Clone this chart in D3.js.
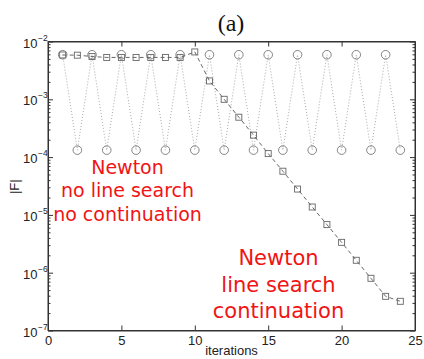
<!DOCTYPE html>
<html>
<head>
<meta charset="utf-8">
<script src="https://d3js.org/d3.v7.min.js"></script>
<style>
  body { margin: 0; background: #fff; }
  svg { display: block; }
</style>
</head>
<body>
<div id="chart"></div>
<script>
// data
var iterations = [1,2,3,4,5,6,7,8,9,10,11,12,13,14,15,16,17,18,19,20,21,22,23,24];
// plain Newton: oscillates between two levels
var newtonPlain = [5.9e-3,1.32e-4,5.9e-3,1.32e-4,5.9e-3,1.32e-4,5.9e-3,1.32e-4,5.9e-3,1.32e-4,5.9e-3,1.32e-4,
                   5.9e-3,1.32e-4,5.9e-3,1.32e-4,5.9e-3,1.32e-4,5.9e-3,1.32e-4,5.9e-3,1.32e-4,5.9e-3,1.32e-4];
// Newton with line search + continuation
var newtonLS = [5.85e-3,5.8e-3,5.5e-3,5.3e-3,5.3e-3,5.3e-3,5.3e-3,5.3e-3,5.3e-3,6.6e-3,2.08e-3,1.0e-3,
                4.9e-4,2.4e-4,1.15e-4,5.7e-5,2.8e-5,1.37e-5,6.8e-6,3.35e-6,1.64e-6,8.0e-7,3.9e-7,3.2e-7];
var xTicks = [0,5,10,15,20,25];
var yExps = [-2,-3,-4,-5,-6,-7];
var label1 = ["Newton","no line search","no continuation"];
var label2 = ["Newton","line search","continuation"];

var W = 424, H = 359;
var margin = {top: 41.5, right: 9, bottom: 28.5, left: 48},
    width = W - margin.left - margin.right,
    height = H - margin.top - margin.bottom;

var svg = d3.select("#chart")
  .append("svg")
    .attr("width", W)
    .attr("height", H)
    .style("font-family", "'Liberation Sans', Arial, sans-serif");

var g = svg.append("g")
    .attr("transform", "translate(" + margin.left + "," + margin.top + ")");

var x = d3.scaleLinear().domain([0, 25]).range([0, width]);
var y = d3.scaleLog().domain([1e-7, 1e-2]).range([height, 0]);

var majorY = yExps.map(function(e) { return Math.pow(10, e); });
var minorY = [];
for (var e = -7; e < -2; e++) {
  for (var m = 2; m <= 9; m++) minorY.push(m * Math.pow(10, e));
}

var axisColor = "#333";

// bottom axis
var xb = g.append("g")
    .attr("transform", "translate(0," + height + ")")
    .call(d3.axisBottom(x).tickValues(xTicks).tickSize(-5).tickSizeOuter(0).tickPadding(5.5).tickFormat(d3.format("d")));
// top axis (ticks only)
var xt = g.append("g")
    .call(d3.axisTop(x).tickValues(xTicks).tickSize(-5).tickSizeOuter(0).tickFormat(""));

// left axis: majors and minors
var yl = g.append("g")
    .call(d3.axisLeft(y).tickValues(majorY).tickSize(-5).tickSizeOuter(0).tickFormat(""));
var ylm = g.append("g")
    .call(d3.axisLeft(y).tickValues(minorY).tickSize(-2.5).tickSizeOuter(0).tickFormat(""));
// right axis
var yr = g.append("g")
    .attr("transform", "translate(" + width + ",0)")
    .call(d3.axisRight(y).tickValues(majorY).tickSize(-5).tickSizeOuter(0).tickFormat(""));
var yrm = g.append("g")
    .attr("transform", "translate(" + width + ",0)")
    .call(d3.axisRight(y).tickValues(minorY).tickSize(-2.5).tickSizeOuter(0).tickFormat(""));

[xb, xt, yl, ylm, yr, yrm].forEach(function(a) {
  a.selectAll("path").attr("stroke", axisColor);
  a.selectAll("line").attr("stroke", axisColor);
  a.selectAll("text").attr("fill", "#222").style("font-size", "13px")
    .style("font-family", "'Liberation Sans', Arial, sans-serif");
});

// power-of-ten labels with superscript
yl.selectAll(".tick").each(function(d, i) {
  var t = d3.select(this);
  t.append("text")
    .attr("x", -10.5).attr("y", 5.5)
    .attr("text-anchor", "end")
    .attr("fill", "#222")
    .style("font-size", "13px")
    .text("10");
  t.append("text")
    .attr("x", -10).attr("y", -1.5)
    .attr("text-anchor", "start")
    .attr("fill", "#222")
    .style("font-size", "8.5px")
    .text("\u2212" + Math.abs(yExps[i]));
});

// frame
g.append("rect")
  .attr("width", width).attr("height", height)
  .attr("fill", "none").attr("stroke", axisColor).attr("stroke-width", 1);

// plain Newton: dotted line + circles
var line = d3.line()
  .x(function(d, i) { return x(iterations[i]); })
  .y(function(d) { return y(d); });

g.append("path")
  .datum(newtonPlain)
  .attr("fill", "none")
  .attr("stroke", "#aaa")
  .attr("stroke-width", 1)
  .attr("stroke-dasharray", "1,2")
  .attr("d", line);

g.selectAll(".circ")
  .data(newtonPlain)
  .enter().append("circle")
    .attr("class", "circ")
    .attr("cx", function(d, i) { return x(iterations[i]); })
    .attr("cy", function(d) { return y(d); })
    .attr("r", 4.3)
    .attr("fill", "none")
    .attr("stroke", "#777")
    .attr("stroke-width", 0.9);

// line search + continuation: dashed line + squares
g.append("path")
  .datum(newtonLS)
  .attr("fill", "none")
  .attr("stroke", "#555")
  .attr("stroke-width", 0.9)
  .attr("stroke-dasharray", "4,3")
  .attr("d", line);

var s = 6;
g.selectAll(".sq")
  .data(newtonLS)
  .enter().append("rect")
    .attr("class", "sq")
    .attr("x", function(d, i) { return x(iterations[i]) - s / 2; })
    .attr("y", function(d) { return y(d) - s / 2; })
    .attr("width", s).attr("height", s)
    .attr("fill", "none")
    .attr("stroke", "#666")
    .attr("stroke-width", 0.9);

// annotations
function block(lines, cx, y0, dy, size) {
  svg.append("text")
    .attr("text-anchor", "middle")
    .attr("fill", "#f01414")
    .style("font-family", "'DejaVu Sans', sans-serif")
    .style("font-size", size + "px")
    .selectAll("tspan")
    .data(lines)
    .enter().append("tspan")
      .attr("x", cx)
      .attr("y", function(d, i) { return y0 + i * dy; })
      .text(function(d) { return d; });
}
block(label1, 127.5, 173.5, 23.5, 19);
block(label2, 278.5, 265, 26.5, 21);

// axis titles
svg.append("text")
  .attr("x", 231.5).attr("y", 355)
  .attr("text-anchor", "middle")
  .attr("fill", "#222")
  .style("font-size", "13px")
  .text("iterations");

svg.append("text")
  .attr("transform", "translate(18.5,186.7) rotate(-90)")
  .attr("text-anchor", "middle")
  .attr("fill", "#222")
  .style("font-size", "13px")
  .text("|F|");

// panel title
svg.append("text")
  .attr("x", 231).attr("y", 31)
  .attr("text-anchor", "middle")
  .attr("fill", "#111")
  .style("font-family", "'Liberation Serif', 'DejaVu Serif', serif")
  .style("font-size", "24px")
  .text("(a)");
</script>
</body>
</html>
